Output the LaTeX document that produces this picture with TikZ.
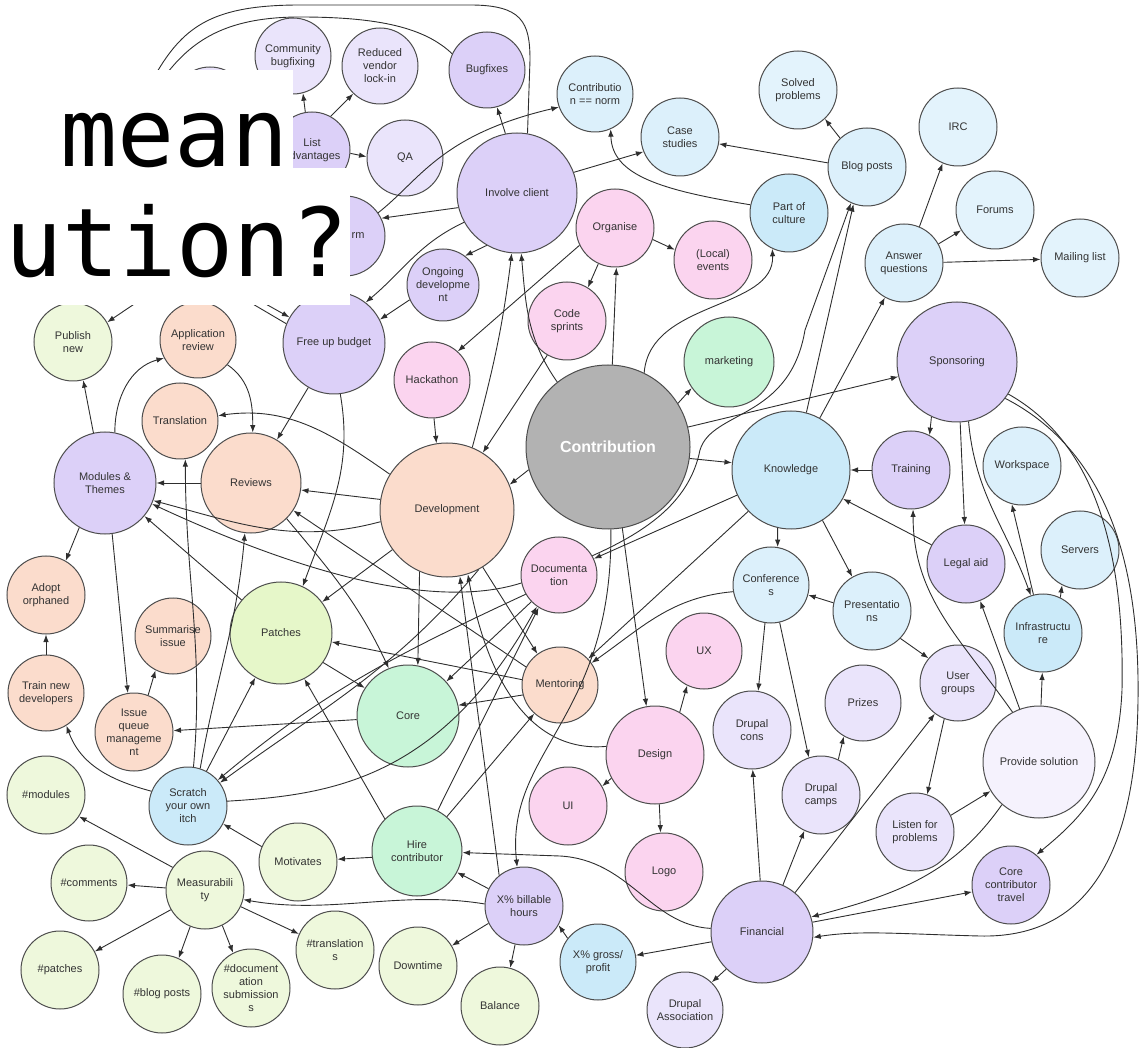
\documentclass[tikz,border=0pt]{standalone}
\usepackage{fontspec}
\setmainfont{Liberation Sans}
\newfontfamily\ovlfont{DejaVu Sans Mono}
\usetikzlibrary{arrows.meta}
\definecolor{ring}{HTML}{4D4D4D}
\definecolor{edge}{HTML}{2E2E2E}
\definecolor{txt}{HTML}{333333}
\definecolor{lav}{HTML}{DCD0F8}
\definecolor{lavl}{HTML}{EAE4FB}
\definecolor{lavp}{HTML}{F5F2FD}
\definecolor{peach}{HTML}{FBDCCC}
\definecolor{ygr}{HTML}{EEF8DC}
\definecolor{lime}{HTML}{E6F7C9}
\definecolor{mint}{HTML}{C8F5D8}
\definecolor{pink}{HTML}{FBD4EF}
\definecolor{sky}{HTML}{DCF0FB}
\definecolor{skyl}{HTML}{E3F3FC}
\definecolor{skyd}{HTML}{CBEAF9}
\definecolor{hub}{HTML}{B2B2B2}
\begin{document}
\begin{tikzpicture}[x=1pt,y=1pt,
  bub/.style={circle, draw=ring, line width=1pt, inner sep=0pt, minimum size=#1},
  lbl/.style={align=center, font=\fontsize{11}{13}\selectfont, text=txt, inner sep=0pt},
  arr/.style={draw=edge, line width=0.9pt, -{Latex[length=7.5pt,width=5.5pt]}},
  ln/.style={draw=edge, line width=0.9pt},
  veil/.style={fill=white, draw=none},
  ovl/.style={font=\ovlfont\fontsize{95}{100}\selectfont, text=black, inner sep=0pt, anchor=base west}]
\useasboundingbox (0,0) rectangle (1144,-1048);

% ---------------- bubbles
\node[bub=76pt, fill=lavl] (hid) at (210,-105) {};
\node[bub=76pt, fill=lavl, label={[lbl]center:{Community\\bugfixing}}] (cb) at (293,-56) {};
\node[bub=76pt, fill=lavl, label={[lbl]center:{Reduced\\vendor\\lock-in}}] (rvl) at (380,-66) {};
\node[bub=76pt, fill=lav, label={[lbl]center:{Bugfixes}}] (bug) at (487,-70) {};
\node[bub=76pt, fill=lav, label={[lbl]center:{List\\advantages}}] (la) at (312,-150) {};
\node[bub=76pt, fill=lavl, label={[lbl]center:{QA}}] (qa) at (405,-158) {};
\node[bub=80pt, fill=lav] (pf) at (345,-236) {};
\node[lbl] (pftxt) at (358,-236) {rm};
\node[bub=120pt, fill=lav, label={[lbl]center:{Involve client}}] (ic) at (517,-193) {};
\node[bub=76pt, fill=sky, label={[lbl]center:{Contributio\\n == norm}}] (cnorm) at (595,-94) {};
\node[bub=78pt, fill=sky, label={[lbl]center:{Case\\studies}}] (cs) at (680,-137) {};
\node[bub=78pt, fill=skyl, label={[lbl]center:{Solved\\problems}}] (sp) at (798,-90) {};
\node[bub=78pt, fill=sky, label={[lbl]center:{Blog posts}}] (bp) at (867,-167) {};
\node[bub=78pt, fill=skyl, label={[lbl]center:{IRC}}] (irc) at (958,-127) {};
\node[bub=78pt, fill=skyl, label={[lbl]center:{Forums}}] (forum) at (995,-210) {};
\node[bub=78pt, fill=sky, label={[lbl]center:{Answer\\questions}}] (aq) at (904,-263) {};
\node[bub=78pt, fill=skyl, label={[lbl]center:{Mailing list}}] (ml) at (1080,-258) {};
\node[bub=78pt, fill=skyd, label={[lbl]center:{Part of\\culture}}] (poc) at (789,-213) {};
\node[bub=78pt, fill=pink, label={[lbl]center:{Organise}}] (org) at (615,-228) {};
\node[bub=78pt, fill=pink, label={[lbl]center:{(Local)\\events}}] (lev) at (713,-260) {};
\node[bub=78pt, fill=pink, label={[lbl]center:{Code\\sprints}}] (csp) at (567,-321) {};
\node[bub=72pt, fill=lav, label={[lbl]center:{Ongoing\\developme\\nt}}] (ongo) at (443,-285) {};
\node[bub=102pt, fill=lav, label={[lbl]center:{Free up budget}}] (fub) at (334,-343) {};
\node[bub=78pt, fill=ygr, label={[lbl]center:{Publish\\new}}] (pub) at (73,-342) {};
\node[bub=76pt, fill=peach, label={[lbl]center:{Application\\review}}] (appr) at (198,-340) {};
\node[bub=76pt, fill=pink, label={[lbl]center:{Hackathon}}] (hack) at (432,-380) {};
\node[bub=90pt, fill=mint, label={[lbl]center:{marketing}}] (mkt) at (729,-362) {};
\node[bub=120pt, fill=lav, label={[lbl]center:{Sponsoring}}] (spon) at (957,-362) {};
\node[bub=164pt, fill=hub, label={[lbl, font=\fontsize{16}{18}\selectfont\bfseries, text=white]center:{Contribution}}] (contrib) at (608,-447) {};
\node[bub=76pt, fill=peach, label={[lbl]center:{Translation}}] (transl) at (180,-421) {};
\node[bub=102pt, fill=lav, label={[lbl]center:{Modules \&\\Themes}}] (mt) at (105,-483) {};
\node[bub=100pt, fill=peach, label={[lbl]center:{Reviews}}] (rev) at (251,-483) {};
\node[bub=134pt, fill=peach, label={[lbl]center:{Development}}] (dev) at (447,-510) {};
\node[bub=118pt, fill=skyd, label={[lbl]center:{Knowledge}}] (kn) at (791,-470) {};
\node[bub=78pt, fill=lav, label={[lbl]center:{Training}}] (trn) at (911,-470) {};
\node[bub=78pt, fill=sky, label={[lbl]center:{Workspace}}] (wsp) at (1022,-466) {};
\node[bub=78pt, fill=sky, label={[lbl]center:{Servers}}] (srv) at (1080,-550) {};
\node[bub=78pt, fill=lav, label={[lbl]center:{Legal aid}}] (legal) at (966,-564) {};
\node[bub=76pt, fill=pink, label={[lbl]center:{Documenta\\tion}}] (docu) at (559,-575) {};
\node[bub=76pt, fill=sky, label={[lbl]center:{Conference\\s}}] (conf) at (771,-585) {};
\node[bub=78pt, fill=sky, label={[lbl]center:{Presentatio\\ns}}] (pres) at (872,-611) {};
\node[bub=78pt, fill=skyd, label={[lbl]center:{Infrastructu\\re}}] (infra) at (1043,-633) {};
\node[bub=78pt, fill=peach, label={[lbl]center:{Adopt\\orphaned}}] (adopt) at (46,-595) {};
\node[bub=76pt, fill=peach, label={[lbl]center:{Summarise\\issue}}] (summ) at (173,-636) {};
\node[bub=102pt, fill=lime, label={[lbl]center:{Patches}}] (patch) at (281,-633) {};
\node[bub=76pt, fill=pink, label={[lbl]center:{UX}}] (ux) at (704,-651) {};
\node[bub=76pt, fill=peach, label={[lbl]center:{Mentoring}}] (ment) at (560,-685) {};
\node[bub=76pt, fill=lavl, label={[lbl]center:{User\\groups}}] (ugr) at (958,-683) {};
\node[bub=76pt, fill=peach, label={[lbl]center:{Train new\\developers}}] (tnd) at (46,-693) {};
\node[bub=102pt, fill=mint, label={[lbl]center:{Core}}] (core) at (408,-716) {};
\node[bub=78pt, fill=peach, label={[lbl]center:{Issue\\queue\\manageme\\nt}}] (iqm) at (134,-732) {};
\node[bub=76pt, fill=lavl, label={[lbl]center:{Prizes}}] (prize) at (863,-703) {};
\node[bub=78pt, fill=lavl, label={[lbl]center:{Drupal\\cons}}] (dcon) at (752,-730) {};
\node[bub=98pt, fill=pink, label={[lbl]center:{Design}}] (des) at (655,-755) {};
\node[bub=112pt, fill=lavp, label={[lbl]center:{Provide solution}}] (prov) at (1039,-762) {};
\node[bub=78pt, fill=skyd, label={[lbl]center:{Scratch\\your own\\itch}}] (scr) at (188,-806) {};
\node[bub=78pt, fill=ygr, label={[lbl]center:{\#modules}}] (hmod) at (46,-795) {};
\node[bub=78pt, fill=pink, label={[lbl]center:{UI}}] (ui) at (568,-806) {};
\node[bub=78pt, fill=lavl, label={[lbl]center:{Drupal\\camps}}] (dcamp) at (821,-795) {};
\node[bub=78pt, fill=lavl, label={[lbl]center:{Listen for\\problems}}] (lfp) at (915,-832) {};
\node[bub=90pt, fill=mint, label={[lbl]center:{Hire\\contributor}}] (hire) at (417,-851) {};
\node[bub=78pt, fill=ygr, label={[lbl]center:{Motivates}}] (motiv) at (298,-862) {};
\node[bub=78pt, fill=pink, label={[lbl]center:{Logo}}] (logo) at (664,-872) {};
\node[bub=78pt, fill=ygr, label={[lbl]center:{Measurabili\\ty}}] (meas) at (205,-890) {};
\node[bub=76pt, fill=ygr, label={[lbl]center:{\#comments}}] (hcom) at (89,-883) {};
\node[bub=78pt, fill=lav, label={[lbl]center:{Core\\contributor\\travel}}] (cct) at (1011,-885) {};
\node[bub=78pt, fill=lav, label={[lbl]center:{X\% billable\\hours}}] (xbill) at (524,-906) {};
\node[bub=102pt, fill=lav, label={[lbl]center:{Financial}}] (fin) at (762,-932) {};
\node[bub=78pt, fill=ygr, label={[lbl]center:{\#translation\\s}}] (htr) at (335,-950) {};
\node[bub=78pt, fill=ygr, label={[lbl]center:{Downtime}}] (down) at (418,-966) {};
\node[bub=76pt, fill=skyd, label={[lbl]center:{X\% gross/\\profit}}] (xgross) at (598,-962) {};
\node[bub=78pt, fill=ygr, label={[lbl]center:{\#patches}}] (hpat) at (60,-970) {};
\node[bub=78pt, fill=ygr, label={[lbl]center:{\#blog posts}}] (hblog) at (162,-994) {};
\node[bub=78pt, fill=ygr, label={[lbl]center:{\#document\\ation\\submission\\s}}] (hdoc) at (251,-988) {};
\node[bub=78pt, fill=ygr, label={[lbl]center:{Balance}}] (bal) at (500,-1006) {};
\node[bub=76pt, fill=lavl, label={[lbl]center:{Drupal\\Association}}] (dassoc) at (685,-1010) {};

% free ends that run under the caption panel
\coordinate (u1) at (150,-160);
\coordinate (u2) at (162,-160);
\coordinate (u3) at (170,-280);
\coordinate (u4) at (205,-270);
\coordinate (u5) at (212,-280);

% ---------------- connectors: top
\draw[ln] (u1) -- (157,-72) .. controls (185,-25) and (215,-5) .. (300,-5) -- (470,-5) .. controls (522,-5) and (530,-22) .. (530,-60) -- (ic.80);
\draw[ln] (u2) -- (168,-72) .. controls (195,-38) and (230,-17) .. (300,-17) .. controls (380,-17) and (425,-28) .. (bug.155);
\draw[arr] (ic.101) -- (bug.-75);
\draw[arr] (la.100) -- (cb.-75);
\draw[arr] (la.61) -- (rvl.226);
\draw[arr] (la.-5) -- (qa.178);
\draw[arr] (ic.194) -- (pf.26);
\draw[arr] (pf.35) .. controls (420,-180) and (440,-135) .. (cnorm.200);
\draw[arr] (ic.209) to[out=205,in=40] (fub.52);
\draw[arr] (ic.240) -- (ongo.53);
\draw[arr] (ongo.204) -- (fub.27);
\draw[arr] (ic.20) -- (cs.202);
\draw[arr] (dev.68) to[out=75,in=263] (ic.265);
\draw[arr] (contrib.128) to[out=125,in=-85] (ic.-86);
\draw[arr] (org.206) -- (hack.48);
\draw[arr] (org.245) -- (csp.58);
\draw[arr] (org.-17) -- (lev.165);
\draw[arr] (contrib.87) -- (org.-88);
\draw[arr] (contrib.64) .. controls (650,-300) and (775,-310) .. (poc.245);
\draw[arr] (poc.168) .. controls (660,-190) and (612,-175) .. (cnorm.-66);
\draw[arr] (bp.174) -- (cs.-10);
\draw[arr] (bp.133) -- (sp.-47);
\draw[arr] (kn.75) -- (bp.250);
\draw[arr] (kn.61) -- (aq.241);
\draw[arr] (aq.67) -- (irc.247);
\draw[arr] (aq.29) -- (forum.211);
\draw[arr] (aq.1) -- (ml.182);
\draw[arr] (docu.30) .. controls (650,-530) and (690,-500) .. (700,-450) .. controls (712,-410) and (790,-420) .. (805,-330) -- (bp.246);
\draw[arr] (u3) -- (pub.30);
\draw[arr] (u4) -- (fub.150);
\draw[ln] (u5) -- (fub.158);

% ---------------- connectors: middle
\draw[arr] (hack.-87) -- (dev.99);
\draw[arr] (csp.240) -- (dev.58);
\draw[arr] (dev.148) to[out=145,in=8] (transl.8);
\draw[arr] (dev.171) -- (rev.-8);
\draw[arr] (rev.180) -- (mt.0);
\draw[arr] (mt.103) -- (pub.-75);
\draw[arr] (mt.79) to[out=90,in=195] (appr.208);
\draw[arr] (appr.-40) to[out=-35,in=90] (rev.88);
\draw[arr] (fub.240) -- (rev.59);
\draw[arr] (fub.-83) to[out=-80,in=70] (patch.65);
\draw[arr] (mt.240) -- (adopt.60);
\draw[arr] (tnd.90) -- (adopt.-90);
\draw[arr] (mt.-82) -- (iqm.99);
\draw[arr] (iqm.69) -- (summ.243);
\draw[arr] (patch.140) -- (mt.-40);
\draw[arr] (dev.190) to[out=195,in=-15] (mt.-20);
\draw[arr] (docu.192) .. controls (430,-612) and (290,-568) .. (mt.-24);
\draw[arr] (dev.216) -- (patch.37);
\draw[arr] (ment.172) -- (patch.-10);
\draw[arr] (hire.135) -- (patch.-63);
\draw[arr] (scr.62) -- (patch.240);
\draw[arr] (patch.-35) -- (core.147);
\draw[arr] (rev.-45) to[out=-50,in=115] (core.112);
\draw[arr] (dev.246) -- (core.79);
\draw[arr] (docu.224) -- (core.42);
\draw[arr] (ment.195) -- (core.12);
\draw[arr] (dev.-58) -- (ment.126);
\draw[arr] (ment.152) -- (rev.-33);
\draw[arr] (core.184) -- (iqm.2);
\draw[arr] (scr.158) to[out=165,in=-70] (tnd.-58);
\draw[arr] (motiv.157) -- (scr.-27);
\draw[arr] (scr.82) to[out=85,in=-90] (transl.-82);
\draw[arr] (scr.72) to[out=80,in=-95] (rev.-97);
\draw[arr] (docu.210) to[out=205,in=40] (scr.41);
\draw[arr] (dev.-62) to[out=230,in=36] (scr.36);
\draw[arr] (scr.7) .. controls (330,-795) and (440,-780) .. (docu.235);
\draw[arr] (hire.63) -- (docu.238);
\draw[arr] (hire.49) -- (ment.228);
\draw[arr] (contrib.-80) -- (des.100);
\draw[arr] (contrib.-88) .. controls (613,-720) and (505,-750) .. (xbill.100);
\draw[arr] (xbill.129) -- (dev.-79);
\draw[arr] (des.170) to[out=185,in=-80] (dev.-72);
\draw[arr] (contrib.32) -- (mkt.215);
\draw[arr] (contrib.-8) -- (kn.173);
\draw[arr] (contrib.14) -- (spon.194);
\draw[arr] (contrib.196) -- (dev.22);
\draw[arr] (kn.205) -- (docu.25);
\draw[arr] (kn.224) -- (ment.43);
\draw[arr] (conf.190) to[out=185,in=35] (ment.35);

% ---------------- connectors: right
\draw[arr] (kn.257) -- (conf.80);
\draw[arr] (kn.-58) -- (pres.120);
\draw[arr] (pres.168) -- (conf.-15);
\draw[arr] (pres.-44) -- (ugr.140);
\draw[arr] (conf.261) -- (dcon.81);
\draw[arr] (conf.-77) -- (dcamp.108);
\draw[arr] (spon.245) -- (trn.62);
\draw[arr] (trn.180) -- (kn.0);
\draw[arr] (legal.151) -- (kn.-29);
\draw[arr] (spon.-87) -- (legal.92);
\draw[arr] (spon.-79) to[out=-85,in=110] (infra.108);
\draw[arr] (infra.104) -- (wsp.-105);
\draw[arr] (infra.64) -- (srv.243);
\draw[arr] (prov.88) -- (infra.-91);
\draw[arr] (prov.118) to[out=125,in=-90] (trn.-87);
\draw[arr] (prov.110) -- (legal.-69);
\draw[arr] (spon.-32) .. controls (1090,-440) and (1125,-540) .. (1122,-690) .. controls (1118,-780) and (1085,-815) .. (cct.50);
\draw[arr] (spon.-37) .. controls (1105,-450) and (1140,-560) .. (1138,-700) .. controls (1136,-880) and (1070,-938) .. (980,-936) .. controls (900,-934) and (860,-930) .. (fin.-6);
\draw[arr] (prov.229) to[out=235,in=15] (fin.17);
\draw[arr] (fin.11) -- (cct.190);
\draw[arr] (ugr.249) -- (lfp.72);
\draw[arr] (lfp.25) -- (prov.211);
\draw[arr] (fin.50) -- (ugr.233);

% ---------------- connectors: bottom
\draw[arr] (dcamp.64) -- (prize.240);
\draw[arr] (fin.66) -- (dcamp.245);
\draw[arr] (fin.92) -- (dcon.-89);
\draw[arr] (fin.191) -- (xgross.10);
\draw[arr] (fin.226) -- (dassoc.46);
\draw[arr] (fin.176) .. controls (650,-925) and (630,-860) .. (560,-856) -- (hire.-2);
\draw[arr] (xgross.142) -- (xbill.-29);
\draw[arr] (des.60) -- (ux.244);
\draw[arr] (des.208) -- (ui.30);
\draw[arr] (des.-85) -- (logo.95);
\draw[arr] (xbill.154) -- (hire.-28);
\draw[arr] (xbill.206) -- (down.31);
\draw[arr] (xbill.257) -- (bal.75);
\draw[arr] (xbill.177) .. controls (400,-890) and (330,-915) .. (meas.-14);
\draw[arr] (hire.188) -- (motiv.4);
\draw[arr] (meas.145) -- (hmod.-33);
\draw[arr] (meas.177) -- (hcom.-3);
\draw[arr] (meas.210) -- (hpat.28);
\draw[arr] (meas.248) -- (hblog.65);
\draw[arr] (meas.-64) -- (hdoc.117);
\draw[arr] (meas.-25) -- (htr.156);

% ---------------- caption panel
\fill[veil] (0,-70) rectangle (293,-168);
\fill[veil] (0,-168) rectangle (350,-305);
\node[ovl] (capa) at (60,-167) {mean};
\node[ovl] (capb) at (5,-277) {ution?};
\end{tikzpicture}
\end{document}
